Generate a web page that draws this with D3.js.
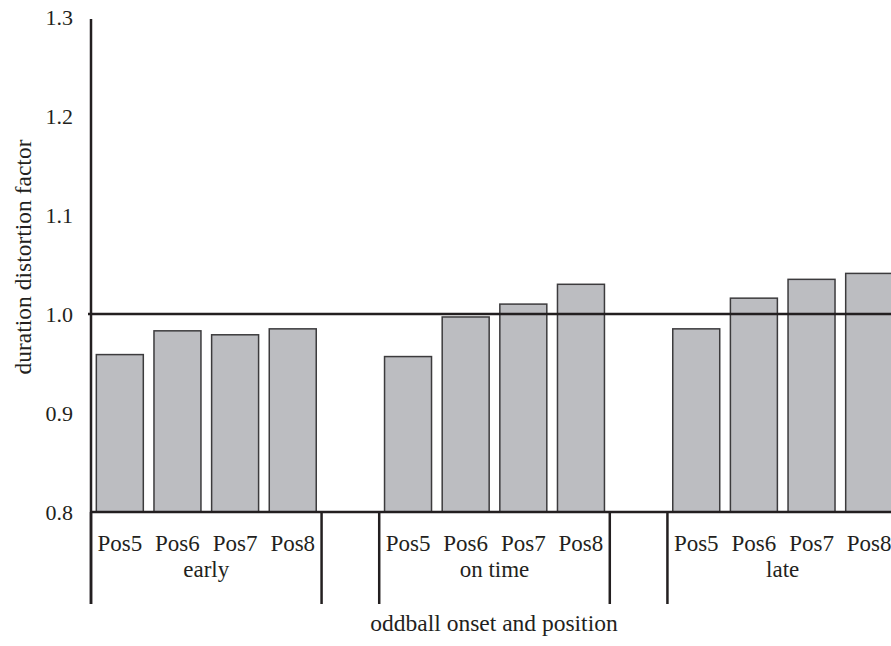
<!DOCTYPE html>
<html>
<head>
<meta charset="utf-8">
<script src="https://cdn.jsdelivr.net/npm/d3@7"></script>
<style>
    body { margin: 0; background: #fff; }
    text { font-family: "Liberation Serif", "Times New Roman", serif; fill: #231f20; }
</style>
</head>
<body>
<svg id="chart" width="891" height="646"></svg>
<script>
var groups = ["early", "on time", "late"]
var positions = ["Pos5", "Pos6", "Pos7", "Pos8"]
var earlyValues = [0.959, 0.983, 0.979, 0.985]
var onTimeValues = [0.957, 0.997, 1.010, 1.030]
var lateValues = [0.985, 1.016, 1.035, 1.041]
var yTicks = [0.8, 0.9, 1.0, 1.1, 1.2, 1.3]
var referenceValue = 1.0

var seriesValues = [earlyValues, onTimeValues, lateValues]

// flat list of bars plus empty gap slots between groups
var slots = []
var bars = []
groups.forEach(function(g, gi) {
    positions.forEach(function(p, pi) {
        var key = g + "|" + p
        slots.push(key)
        bars.push({ key: key, group: g, pos: p, value: seriesValues[gi][pi] })
    })
    if (gi < groups.length - 1) slots.push("gap" + gi)
})

var svg = d3.select("#chart")
var ink = "#231f20"

var x = d3.scaleBand()
    .domain(slots)
    .range([91, 898])
    .paddingInner(0.185)
    .paddingOuter(0.0925)

var y = d3.scaleLinear()
    .domain([0.8, 1.3])
    .range([512, 17])

var pad = x.step() * x.paddingInner() / 2
function slotStart(key) { return x(key) - pad }
function slotEnd(key) { return x(key) + x.bandwidth() + pad }

// bars
svg.append("g")
    .selectAll("rect")
    .data(bars)
    .enter().append("rect")
    .attr("x", function(d) { return x(d.key) })
    .attr("width", x.bandwidth())
    .attr("y", function(d) { return y(d.value) })
    .attr("height", function(d) { return y(0.8) - y(d.value) })
    .attr("fill", "#bcbdc1")
    .attr("stroke", "#3c3b3d")
    .attr("stroke-width", 1.5)

// reference line at 1.0
svg.append("line")
    .attr("x1", 88).attr("x2", 891)
    .attr("y1", y(referenceValue)).attr("y2", y(referenceValue))
    .attr("stroke", ink).attr("stroke-width", 2.5)

// baseline
svg.append("line")
    .attr("x1", 91).attr("x2", 891)
    .attr("y1", y(0.8)).attr("y2", y(0.8))
    .attr("stroke", ink).attr("stroke-width", 2.5)

// y axis line, runs down into the category table
svg.append("line")
    .attr("x1", 91).attr("x2", 91)
    .attr("y1", y(1.3) + 2).attr("y2", 604)
    .attr("stroke", ink).attr("stroke-width", 2.5)

// group dividers
groups.forEach(function(g) {
    var first = g + "|" + positions[0]
    var last = g + "|" + positions[positions.length - 1]
    ;[slotStart(first), slotEnd(last)].forEach(function(xx) {
        svg.append("line")
            .attr("x1", xx).attr("x2", xx)
            .attr("y1", y(0.8)).attr("y2", 604)
            .attr("stroke", ink).attr("stroke-width", 2.5)
    })
    svg.append("text")
        .attr("x", (slotStart(first) + slotEnd(last)) / 2)
        .attr("y", 577)
        .attr("text-anchor", "middle")
        .attr("font-size", 23)
        .text(g)
})

// position labels
svg.append("g")
    .selectAll("text")
    .data(bars)
    .enter().append("text")
    .attr("x", function(d) { return x(d.key) + x.bandwidth() / 2 })
    .attr("y", 551)
    .attr("text-anchor", "middle")
    .attr("font-size", 23)
    .text(function(d) { return d.pos })

// y tick labels
svg.append("g")
    .selectAll("text")
    .data(yTicks)
    .enter().append("text")
    .attr("x", 73)
    .attr("y", function(d) { return y(d) })
    .attr("dy", "0.36em")
    .attr("text-anchor", "end")
    .attr("font-size", 22)
    .text(function(d) { return d3.format(".1f")(d) })

// axis titles
svg.append("text")
    .attr("transform", "translate(31,257) rotate(-90)")
    .attr("text-anchor", "middle")
    .attr("font-size", 23.5)
    .text("duration distortion factor")

svg.append("text")
    .attr("x", 494)
    .attr("y", 631)
    .attr("text-anchor", "middle")
    .attr("font-size", 23.5)
    .text("oddball onset and position")
</script>
</body>
</html>
